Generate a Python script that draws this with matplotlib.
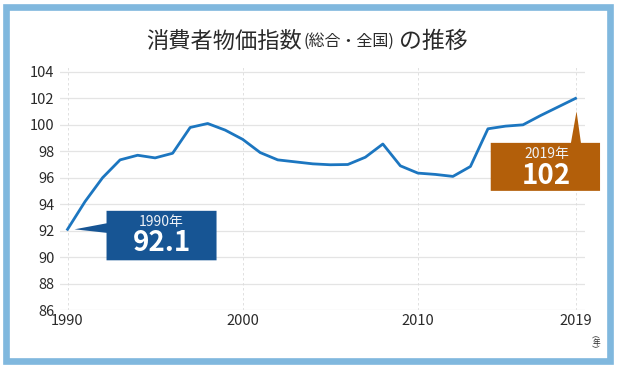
import matplotlib
matplotlib.use("Agg")
import matplotlib.pyplot as plt
from matplotlib.patches import Polygon, Rectangle
from matplotlib.transforms import ScaledTranslation

plt.rcParams['font.family'] = ['Noto Sans CJK JP', 'DejaVu Sans']

# --- data ---
years = list(range(1990, 2020))
cpi = [92.1, 94.2, 96.0, 97.35, 97.7, 97.5, 97.85, 99.8, 100.1, 99.6,
       98.9, 97.9, 97.35, 97.2, 97.05, 96.98, 97.0, 97.55, 98.55, 96.9,
       96.35, 96.25, 96.1, 96.85, 99.7, 99.9, 100.0, 100.7, 101.35, 102.0]
xticks = [1990, 2000, 2010, 2019]
yticks = list(range(86, 105, 2))
title_main = "消費者物価指数"
title_sub = "(総合・全国)"
title_end = "の推移"

LINE = '#1c76c0'
BOX_BLUE = '#175594'
BOX_ORANGE = '#b35f0a'
FRAME = '#80b8de'
TXT = '#2a2a2a'

fig = plt.figure(figsize=(6.18, 3.71), dpi=100)
fig.patch.set_facecolor('white')

# outer light-blue frame
fig.patches.append(Rectangle((5.5 / 618, 1 - 361 / 371), 604.5 / 618, 354.5 / 371,
                             transform=fig.transFigure, facecolor='none',
                             edgecolor=FRAME, linewidth=4.8, zorder=-1))

ax = fig.add_axes([60 / 618, 61 / 371, 525 / 618, 0.656])
ax.set_facecolor('none')
ax.plot(years, cpi, color=LINE, lw=2.0, solid_joinstyle='round', zorder=3)

ax.set_xlim(1989.57, 2019.54)
ax.set_ylim(86, 104.4)
ax.set_xticks(xticks)
ax.set_yticks(yticks)
for y in yticks:
    ax.axhline(y, color='#e4e4e4', lw=0.9, zorder=1)
for x in xticks:
    ax.axvline(x, color='#dcdcdc', lw=0.6, ls=(0, (3, 3)), zorder=1)
for s in ax.spines.values():
    s.set_visible(False)
ax.tick_params(length=0, colors=TXT, labelsize=10.5)
ax.tick_params(axis='x', pad=3)
ax.tick_params(axis='y', pad=4)

# unit label below last year tick
fig.text(596 / 618, 1 - 343 / 371, "︵\n年\n︶", fontsize=5.5, color=TXT,
         ha='center', va='center', linespacing=0.8)

# title, built piece by piece so the middle part can be smaller
fig.canvas.draw()
rend = fig.canvas.get_renderer()
tx, ty = 146 / 618, 1 - 41 / 371
for part, fs, gap in [(title_main, 16, 2), (title_sub, 11.5, 4), (title_end, 16.5, 0)]:
    t = fig.text(tx, ty, part, fontsize=fs, color=TXT, ha='left', va='center')
    tx += (t.get_window_extent(rend).width + gap) / 618


def callout(x, y, verts, color, label, value, lab_xy, val_xy):
    # verts / text positions are pixel offsets from the data point
    tr = fig.dpi_scale_trans + ScaledTranslation(x, y, ax.transData)
    pts = [(vx / 100, vy / 100) for vx, vy in verts]
    fig.patches.append(Polygon(pts, closed=True, transform=tr, facecolor=color,
                               edgecolor='none', zorder=5))
    fig.text(lab_xy[0] / 100, lab_xy[1] / 100, label, transform=tr, color='#eef2f7',
             fontsize=10, ha='center', va='center', zorder=6)
    fig.text(val_xy[0] / 100, val_xy[1] / 100, value, transform=tr, color='white',
             fontsize=20, fontweight='bold', ha='center', va='center', zorder=6)


callout(years[0], cpi[0],
        [(7, 0), (39, 6), (39, 18.5), (149, 18.5), (149, -31), (39, -31), (39, -3.5)],
        BOX_BLUE, f"{years[0]}年", f"{cpi[0]:.1f}", (94, 7.5), (94, -14))
callout(years[-1], cpi[-1],
        [(1, -13), (5.4, -44.5), (24.5, -44.5), (24.5, -92.5), (-84.8, -92.5),
         (-84.8, -44.5), (-4.6, -44.5)],
        BOX_ORANGE, f"{years[-1]}年", f"{cpi[-1]:.0f}", (-29, -56), (-29, -77.5))

fig.savefig("out.png", dpi=100)
